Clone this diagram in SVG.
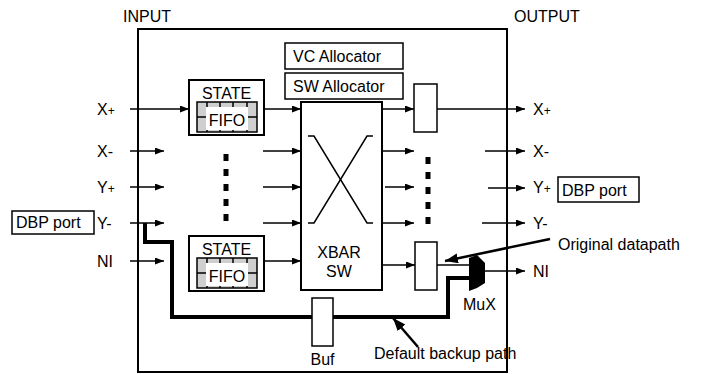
<svg xmlns="http://www.w3.org/2000/svg" width="703" height="374" viewBox="0 0 703 374">
<defs>
<marker id="ah" markerUnits="userSpaceOnUse" markerWidth="10" markerHeight="8" refX="9" refY="3.5" orient="auto"><path d="M0,0 L9,3.5 L0,7 z" fill="#000"/></marker>
<marker id="ahb" markerUnits="userSpaceOnUse" markerWidth="14" markerHeight="12" refX="13" refY="5" orient="auto"><path d="M0,0 L13,5 L0,10 z" fill="#000"/></marker>
<style>
text{font-family:"Liberation Sans",Arial,Helvetica,sans-serif;font-size:16px;fill:#000}
.box{fill:#fff;stroke:#000;stroke-width:1.5}
.bx2{fill:#fff;stroke:#000;stroke-width:2}
.ln{stroke:#000;stroke-width:1.5;fill:none}
.arr{stroke:#000;stroke-width:1.5;fill:none;marker-end:url(#ah)}
.thick{stroke:#000;stroke-width:4;fill:none}
.fifo{fill:#cfcfcf;stroke:#000;stroke-width:1.5}
.sm{font-size:12px}
</style>
</defs>
<rect width="703" height="374" fill="#fff"/>
<g id="router"><rect x="138" y="29" width="369" height="343" fill="none" stroke="#000" stroke-width="2"/></g>
<text x="123" y="22">INPUT</text>
<text x="514" y="22">OUTPUT</text>

<g id="backup-path">
<polyline class="thick" points="145,223 145,242 172,242 172,317 448,317 448,278 471,278"/>
</g>

<g id="connectors">
<line class="arr" x1="130" y1="109" x2="189" y2="109"/>
<line class="arr" x1="130" y1="151" x2="164" y2="151"/>
<line class="arr" x1="130" y1="187" x2="164" y2="187"/>
<line class="arr" x1="130" y1="223" x2="164" y2="223"/>
<line class="arr" x1="130" y1="261" x2="164" y2="261"/>
<line class="arr" x1="264" y1="109" x2="301" y2="109"/>
<line class="arr" x1="263" y1="151" x2="301" y2="151"/>
<line class="arr" x1="263" y1="187" x2="301" y2="187"/>
<line class="arr" x1="263" y1="223" x2="301" y2="223"/>
<line class="arr" x1="264" y1="261" x2="301" y2="261"/>
<line class="arr" x1="382" y1="109" x2="414" y2="109"/>
<line class="arr" x1="382" y1="151" x2="414" y2="151"/>
<line class="arr" x1="385" y1="187" x2="414" y2="187"/>
<line class="arr" x1="382" y1="223" x2="414" y2="223"/>
<line class="arr" x1="382" y1="265" x2="415" y2="265"/>
<line class="arr" x1="437" y1="109" x2="525" y2="109"/>
<line class="arr" x1="485" y1="151" x2="525" y2="151"/>
<line class="arr" x1="488" y1="188" x2="525" y2="188"/>
<line class="arr" x1="482" y1="223" x2="525" y2="223"/>
<line class="ln" x1="437" y1="265" x2="470" y2="265"/>
<line class="arr" x1="485" y1="271" x2="525" y2="271"/>
<line stroke="#000" stroke-width="5" stroke-dasharray="7 8" x1="226" y1="154" x2="226" y2="221"/>
<line stroke="#000" stroke-width="5" stroke-dasharray="7 8" x1="428" y1="157" x2="428" y2="224"/>
<line stroke="#000" stroke-width="2.5" marker-end="url(#ahb)" x1="550" y1="239" x2="445" y2="261"/>
<line stroke="#000" stroke-width="2.5" marker-end="url(#ahb)" x1="418" y1="347" x2="393" y2="318"/>
</g>

<g id="vc-allocator"><rect class="box" x="285" y="43" width="118" height="26"/><text x="293" y="62">VC Allocator</text></g>
<g id="sw-allocator"><rect class="box" x="285" y="73" width="118" height="26"/><text x="293" y="92">SW Allocator</text></g>

<g id="state-top">
<rect class="bx2" x="189" y="80" width="75" height="55"/>
<text x="226.5" y="99" text-anchor="middle">STATE</text>
<rect class="fifo" x="197" y="102" width="60" height="30"/>
<path class="ln" d="M207,102V132M220,102V132M233,102V132M247,102V132M197,117H257"/>
<rect x="206" y="107" width="42" height="23" fill="#fff"/>
<text x="227" y="126" text-anchor="middle">FIFO</text>
</g>

<g id="state-bottom">
<rect class="bx2" x="189" y="236" width="75" height="55"/>
<text x="226.5" y="255" text-anchor="middle">STATE</text>
<rect class="fifo" x="197" y="258" width="60" height="30"/>
<path class="ln" d="M207,258V288M220,258V288M233,258V288M247,258V288M197,273H257"/>
<rect x="206" y="263" width="42" height="23" fill="#fff"/>
<text x="227" y="282" text-anchor="middle">FIFO</text>
</g>

<g id="xbar">
<rect class="bx2" x="301" y="102" width="81" height="188"/>
<polyline class="ln" points="308,136 314,136 367,223 373,223"/>
<polyline class="ln" points="308,223 314,223 367,136 373,136"/>
<text x="339" y="258" text-anchor="middle">XBAR</text>
<text x="339" y="277" text-anchor="middle">SW</text>
</g>

<g id="out-buf-top"><rect class="box" x="414" y="84" width="23" height="48"/></g>
<g id="out-buf-bottom"><rect class="box" x="415" y="242" width="22" height="48"/></g>

<g id="mux">
<polygon points="469,258 477,255 485,263 485,283 477,288 469,291" fill="#000"/>
<text x="463" y="310">MuX</text>
</g>

<g id="buf">
<rect class="box" x="312" y="298" width="21" height="48"/>
<text x="322.5" y="365" text-anchor="middle">Buf</text>
</g>

<g id="dbp-in"><rect class="box" x="12" y="211" width="82" height="23"/><text x="16" y="228">DBP port</text></g>
<g id="dbp-out"><rect class="box" x="558" y="177" width="81" height="25"/><text x="562" y="196">DBP port</text></g>

<g id="labels">
<text x="97" y="115">X<tspan class="sm">+</tspan></text>
<text x="97" y="157">X-</text>
<text x="97" y="193">Y<tspan class="sm">+</tspan></text>
<text x="97" y="229">Y-</text>
<text x="97" y="267">NI</text>
<text x="533" y="115">X<tspan class="sm">+</tspan></text>
<text x="533" y="157">X-</text>
<text x="533" y="193">Y<tspan class="sm">+</tspan></text>
<text x="533" y="229">Y-</text>
<text x="533" y="277">NI</text>
<text x="558" y="250">Original datapath</text>
<text x="374" y="359">Default backup path</text>
</g>
</svg>
